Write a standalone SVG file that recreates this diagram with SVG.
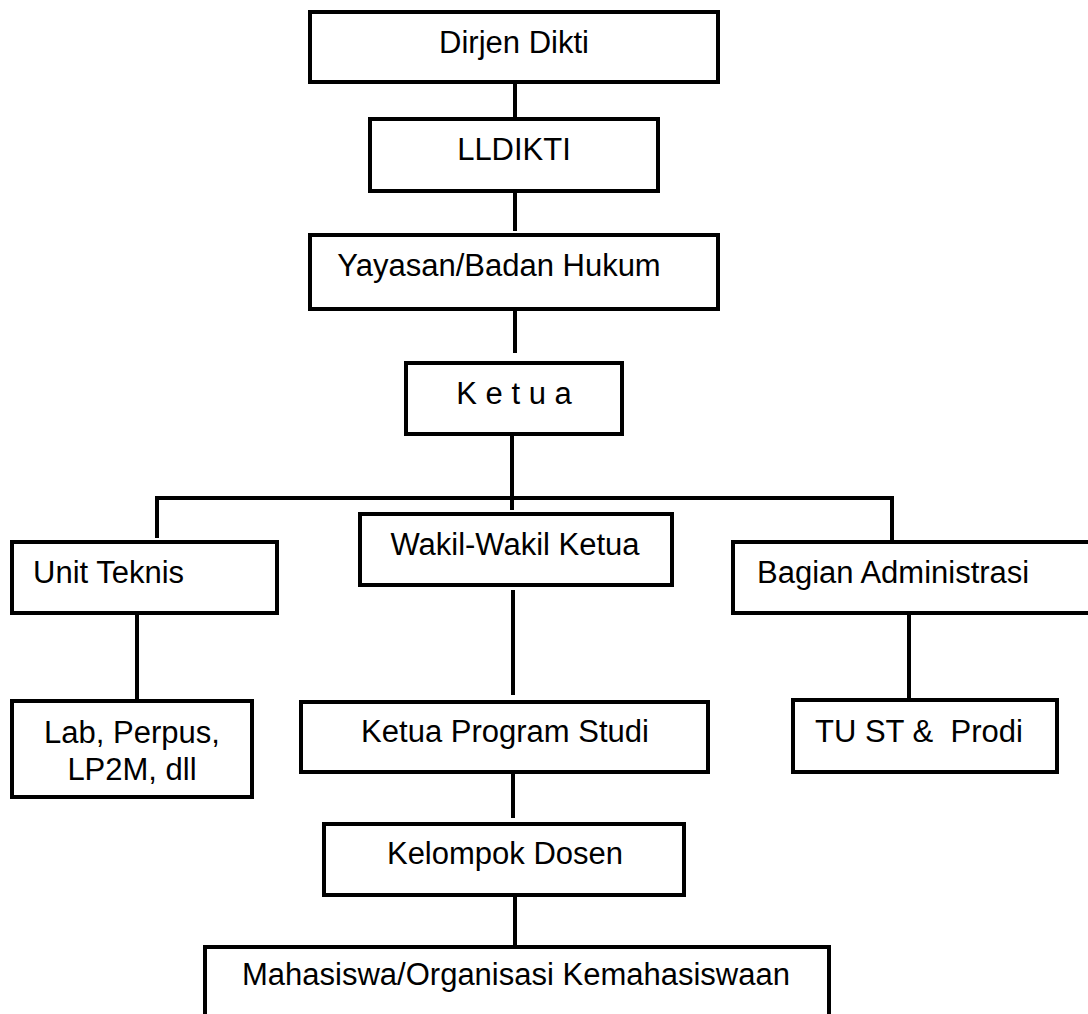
<svg xmlns="http://www.w3.org/2000/svg" width="1088" height="1014" viewBox="0 0 1088 1014">
<style>
.box{fill:#fff;stroke:#000;stroke-width:4}
.ln{stroke:#000;stroke-width:4;fill:none}
text{font-family:"Liberation Sans",Arial,sans-serif;font-size:31px;fill:#000}
.c{text-anchor:middle}
</style>
<rect width="1088" height="1014" fill="#fff"/>
<g id="connectors">
<line class="ln" x1="515" y1="82" x2="515" y2="119"/>
<line class="ln" x1="515" y1="191" x2="515" y2="231"/>
<line class="ln" x1="515" y1="306" x2="515" y2="353"/>
<line class="ln" x1="512" y1="434" x2="512" y2="510"/>
<line class="ln" x1="155" y1="498" x2="894" y2="498"/>
<line class="ln" x1="157" y1="498" x2="157" y2="538"/>
<line class="ln" x1="892" y1="498" x2="892" y2="540"/>
<line class="ln" x1="137" y1="613" x2="137" y2="699"/>
<line class="ln" x1="513" y1="590" x2="513" y2="695"/>
<line class="ln" x1="909" y1="613" x2="909" y2="698"/>
<line class="ln" x1="513" y1="772" x2="513" y2="818"/>
<line class="ln" x1="515" y1="895" x2="515" y2="946"/>
</g>
<g id="dirjen"><rect class="box" x="310" y="12" width="408" height="70"/><text class="c" x="514" y="53">Dirjen Dikti</text></g>
<g id="lldikti"><rect class="box" x="370" y="119" width="288" height="72"/><text class="c" x="514" y="160">LLDIKTI</text></g>
<g id="yayasan"><rect class="box" x="310" y="235" width="408" height="74"/><text class="c" x="499" y="276">Yayasan/Badan Hukum</text></g>
<g id="ketua"><rect class="box" x="406" y="363" width="216" height="71"/><text class="c" x="514" y="404" xml:space="preserve">K e t u a</text></g>
<g id="unit-teknis"><rect class="box" x="12" y="542" width="265" height="71"/><text x="33" y="583">Unit Teknis</text></g>
<g id="wakil"><rect class="box" x="360" y="514" width="312" height="71"/><text class="c" x="515" y="555">Wakil-Wakil Ketua</text></g>
<g id="bagian-admin"><rect class="box" x="733" y="542" width="370" height="71"/><text x="757" y="583">Bagian Administrasi</text></g>
<g id="lab"><rect class="box" x="12" y="701" width="240" height="96"/><text class="c" x="132" y="743">Lab, Perpus,</text><text class="c" x="132" y="780">LP2M, dll</text></g>
<g id="kaprodi"><rect class="box" x="301" y="702" width="407" height="70"/><text class="c" x="505" y="742">Ketua Program Studi</text></g>
<g id="tu"><rect class="box" x="793" y="700" width="264" height="72"/><text x="815" y="742" xml:space="preserve">TU ST &amp;  Prodi</text></g>
<g id="kelompok-dosen"><rect class="box" x="324" y="824" width="360" height="71"/><text class="c" x="505" y="864">Kelompok Dosen</text></g>
<g id="mahasiswa"><rect class="box" x="205" y="947" width="624" height="90"/><text class="c" x="516" y="985">Mahasiswa/Organisasi Kemahasiswaan</text></g>
</svg>
